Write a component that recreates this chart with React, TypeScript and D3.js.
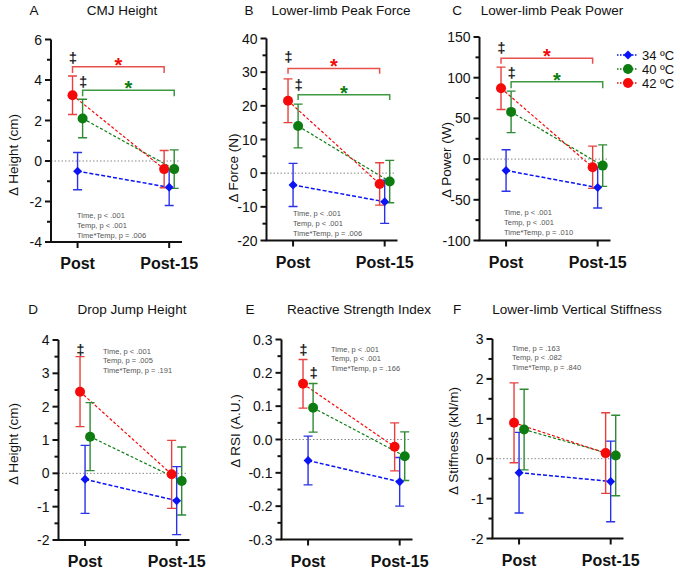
import React from "react";
import * as d3 from "d3";

// time points and groups
const timePoints = ["Post", "Post-15"];
const groups = ["34 ºC", "40 ºC", "42 ºC"];

// means per group [Post, Post-15]
const cmjMeans = [[-0.5, -1.3], [2.1, -0.4], [3.25, -0.4]];
const cmjSd = [[0.92, 0.9], [0.95, 0.95], [0.95, 0.92]];
const forceMeans = [[-3.5, -8.5], [14, -2.5], [21.5, -3.2]];
const forceSd = [[6.4, 6.4], [6.5, 6.3], [6.5, 6.3]];
const powerMeans = [[-14, -35], [58, -8], [87, -10]];
const powerSd = [[25.5, 25], [25.5, 25.5], [26, 26]];
const dropMeans = [[-0.18, -0.82], [1.1, -0.23], [2.45, -0.03]];
const dropSd = [[1.02, 1.02], [1.02, 1.02], [1.05, 1.02]];
const rsiMeans = [[-0.063, -0.127], [0.095, -0.05], [0.167, -0.022]];
const rsiSd = [[0.073, 0.073], [0.073, 0.073], [0.073, 0.072]];
const stiffMeans = [[-0.35, -0.57], [0.73, 0.08], [0.9, 0.14]];
const stiffSd = [[1.01, 1.01], [1.01, 1.01], [1.0, 1.01]];

// y tick values
const cmjTicks = [-4, -2, 0, 2, 4, 6];
const forceTicks = [-20, -10, 0, 10, 20, 30, 40];
const powerTicks = [-100, -50, 0, 50, 100, 150];
const dropTicks = [-2, -1, 0, 1, 2, 3, 4];
const rsiTicks = [-0.3, -0.2, -0.1, 0.0, 0.1, 0.2, 0.3];
const stiffTicks = [-2, -1, 0, 1, 2, 3];

// statistics text
const cmjStats = ["Time, p < .001", "Temp, p < .001", "Time*Temp, p = .006"];
const forceStats = ["Time, p < .001", "Temp, p < .001", "Time*Temp, p = .006"];
const powerStats = ["Time, p < .001", "Temp, p < .001", "Time*Temp, p = .010"];
const dropStats = ["Time, p < .001", "Temp, p = .005", "Time*Temp, p = .191"];
const rsiStats = ["Time, p < .001", "Temp, p < .001", "Time*Temp, p = .166"];
const stiffStats = ["Time, p = .163", "Temp, p < .082", "Time*Temp, p = .840"];

// significance marks: bracket level / drop level / dagger level
const cmjSig = { red: [4.65, 4.35, 5.1], green: [3.5, 3.2, 3.9] };
const forceSig = { red: [31.1, 29.5, 34.4], green: [23.3, 21.7, 26.1] };
const powerSig = { red: [124, 117, 136], green: [95, 87, 106] };
const dropSig = { red: [null, null, 3.7] };
const rsiSig = { red: [null, null, 0.268], green: [null, null, 0.2] };

const markerColors = ["#0a14f5", "#0d7d12", "#f50a0a"];
const barColors = ["#2a33e8", "#2e8b34", "#e8403f"];
const offsets = [0, 0.055, -0.055];
const FONT = "'Liberation Sans', Arial, sans-serif";

interface PanelDef {
  letter: string;
  title: string;
  ylabel: string;
  means: number[][];
  sd: number[][];
  ticks: number[];
  minor: number;
  fmt: (v: number) => string;
  stats: string[];
  sig: any;
  left: number;
  top: number;
  bottom: number;
  titleX: number;
  titleY: number;
  letterX: number;
  labelX: number;
  labelY: number;
  statsX: number;
  statsY: number;
  statsGap: number;
}

const intFmt = (v: number) => String(v);
const rsiFmt = (v: number) => (Math.abs(v) < 1e-9 ? "0.0" : v.toFixed(1));

const panels: PanelDef[] = [
  { letter: "A", title: "CMJ Height", ylabel: "Δ Height (cm)", means: cmjMeans, sd: cmjSd, ticks: cmjTicks, minor: 1, fmt: intFmt, stats: cmjStats, sig: cmjSig,
    left: 51, top: 39.5, bottom: 242, titleX: 122, titleY: 15, letterX: 34, labelX: 18, labelY: 155, statsX: 77, statsY: 218, statsGap: 10 },
  { letter: "B", title: "Lower-limb Peak Force", ylabel: "Δ Force (N)", means: forceMeans, sd: forceSd, ticks: forceTicks, minor: 5, fmt: intFmt, stats: forceStats, sig: forceSig,
    left: 266.5, top: 38.5, bottom: 240.5, titleX: 341, titleY: 15, letterX: 249, labelX: 238, labelY: 168, statsX: 293, statsY: 216, statsGap: 10 },
  { letter: "C", title: "Lower-limb Peak Power", ylabel: "Δ Power (W)", means: powerMeans, sd: powerSd, ticks: powerTicks, minor: 25, fmt: intFmt, stats: powerStats, sig: powerSig,
    left: 479.5, top: 37, bottom: 240.5, titleX: 552, titleY: 15, letterX: 457, labelX: 451, labelY: 160, statsX: 504, statsY: 215, statsGap: 10 },
  { letter: "D", title: "Drop Jump Height", ylabel: "Δ Height (cm)", means: dropMeans, sd: dropSd, ticks: dropTicks, minor: 0.5, fmt: intFmt, stats: dropStats, sig: dropSig,
    left: 58.5, top: 340, bottom: 540, titleX: 132, titleY: 314, letterX: 33, labelX: 18, labelY: 444, statsX: 103, statsY: 354, statsGap: 9.3 },
  { letter: "E", title: "Reactive Strength Index", ylabel: "Δ RSI (A.U.)", means: rsiMeans, sd: rsiSd, ticks: rsiTicks, minor: 0.05, fmt: rsiFmt, stats: rsiStats, sig: rsiSig,
    left: 281.5, top: 339.5, bottom: 539.5, titleX: 359, titleY: 314, letterX: 250, labelX: 240, labelY: 431, statsX: 331, statsY: 352, statsGap: 9.3 },
  { letter: "F", title: "Lower-limb Vertical Stiffness", ylabel: "Δ Stiffness (kN/m)", means: stiffMeans, sd: stiffSd, ticks: stiffTicks, minor: 0.5, fmt: intFmt, stats: stiffStats, sig: {},
    left: 492.5, top: 339, bottom: 538.5, titleX: 577, titleY: 314, letterX: 457, labelX: 458, labelY: 441, statsX: 512, statsY: 351, statsGap: 9.3 },
];

const diamond = d3.symbol().type(d3.symbolSquare).size(40)();

function Marker({ g, x, y }: { g: number; x: number; y: number }) {
  if (g === 0) {
    return <path d={diamond!} transform={`translate(${x},${y}) rotate(45)`} fill={markerColors[0]} />;
  }
  return <circle cx={x} cy={y} r={5} fill={markerColors[g]} />;
}

function Panel({ p }: { p: PanelDef }) {
  const lo = p.ticks[0];
  const hi = p.ticks[p.ticks.length - 1];
  const y = d3.scaleLinear().domain([lo, hi]).range([p.bottom, p.top]);
  const x = d3.scaleLinear().domain([-0.29, 1.14]).range([p.left, p.left + 131]);
  const minorTicks = d3.range(lo, hi + p.minor / 2, p.minor).filter(
    (v) => !p.ticks.some((t) => Math.abs(t - v) < p.minor / 10)
  );
  const order = [1, 0, 2];

  const bracket = (key: "red" | "green", g: number, color: string) => {
    const s = p.sig[key];
    if (!s) return null;
    const x0 = x(0 + offsets[g]);
    const x1 = x(1 + offsets[g]);
    return (
      <g key={key}>
        {s[0] !== null && (
          <>
            <path
              d={`M${x0},${y(s[1])}V${y(s[0])}H${x1}V${y(s[1])}`}
              fill="none"
              stroke={color}
              strokeWidth={1.5}
            />
            <text x={(x0 + x1) / 2} y={y(s[0]) + 5} textAnchor="middle" fontSize={20} fontWeight="bold" fill={markerColors[g]}>
              *
            </text>
          </>
        )}
        <text x={x0 + 0.5} y={y(s[2]) + 5} textAnchor="middle" fontSize={15} fontWeight="bold" fill="#222">
          ‡
        </text>
      </g>
    );
  };

  return (
    <g fontFamily={FONT}>
      <text x={p.letterX} y={p.titleY} textAnchor="middle" fontSize={13.5} fill="#111">{p.letter}</text>
      <text x={p.titleX} y={p.titleY} textAnchor="middle" fontSize={13.5} fill="#111">{p.title}</text>
      <text transform={`translate(${p.labelX},${p.labelY}) rotate(-90)`} textAnchor="middle" fontSize={13.5} fill="#111">
        {p.ylabel}
      </text>

      {/* zero reference */}
      <line x1={p.left} x2={x(1.12)} y1={y(0)} y2={y(0)} stroke="#888" strokeWidth={1} strokeDasharray="1.5,2" />

      {/* y axis */}
      <line x1={p.left} x2={p.left} y1={p.top} y2={p.bottom} stroke="#111" strokeWidth={2} />
      {p.ticks.map((t) => (
        <g key={t}>
          <line x1={p.left - 6} x2={p.left} y1={y(t)} y2={y(t)} stroke="#111" strokeWidth={2} />
          <text x={p.left - 9} y={y(t)} dy="0.36em" textAnchor="end" fontSize={14} fill="#111">
            {p.fmt(t)}
          </text>
        </g>
      ))}
      {minorTicks.map((t) => (
        <line key={"m" + t} x1={p.left - 4} x2={p.left} y1={y(t)} y2={y(t)} stroke="#111" strokeWidth={2} />
      ))}

      {/* x axis */}
      <line x1={p.left - 1} x2={x(1.14)} y1={p.bottom} y2={p.bottom} stroke="#111" strokeWidth={2} />
      {timePoints.map((tp, i) => (
        <g key={tp}>
          <line x1={x(i)} x2={x(i)} y1={p.bottom} y2={p.bottom + 6} stroke="#111" strokeWidth={2} />
          <text x={x(i)} y={p.bottom + 27} textAnchor="middle" fontSize={16} fontWeight="bold" fill="#111">
            {tp}
          </text>
        </g>
      ))}

      {/* stats */}
      {p.stats.map((s, i) => (
        <text key={s + i} x={p.statsX} y={p.statsY + i * p.statsGap} fontSize={7.5} fill="#555">
          {s}
        </text>
      ))}

      {bracket("red", 2, "#e8504c")}
      {bracket("green", 1, "#3d9a40")}

      {/* connecting dashed lines */}
      {order.map((g) => (
        <line
          key={"l" + g}
          x1={x(0 + offsets[g])}
          y1={y(p.means[g][0])}
          x2={x(1 + offsets[g])}
          y2={y(p.means[g][1])}
          stroke={markerColors[g]}
          strokeWidth={g === 0 ? 1.5 : 1.2}
          strokeDasharray={g === 0 ? "4,2" : "3,2"}
        />
      ))}

      {/* error bars */}
      {order.map((g) =>
        [0, 1].map((i) => {
          const cx = x(i + offsets[g]);
          const m = p.means[g][i];
          const e = p.sd[g][i];
          return (
            <path
              key={"e" + g + i}
              d={`M${cx - 4.5},${y(m + e)}H${cx + 4.5}M${cx},${y(m + e)}V${y(m - e)}M${cx - 4.5},${y(m - e)}H${cx + 4.5}`}
              fill="none"
              stroke={barColors[g]}
              strokeWidth={1.4}
            />
          );
        })
      )}

      {/* markers */}
      {order.map((g) =>
        [0, 1].map((i) => <Marker key={"p" + g + i} g={g} x={x(i + offsets[g])} y={y(p.means[g][i])} />)
      )}
    </g>
  );
}

function Legend() {
  const ys = [55, 69, 83];
  return (
    <g fontFamily={FONT}>
      {groups.map((name, g) => (
        <g key={name}>
          <line x1={617} x2={638} y1={ys[g]} y2={ys[g]} stroke={markerColors[g]} strokeWidth={1.3} strokeDasharray="1.5,1.5" />
          <Marker g={g} x={628} y={ys[g]} />
          <text x={642} y={ys[g]} dy="0.36em" fontSize={13} fill="#111">
            {name}
          </text>
        </g>
      ))}
    </g>
  );
}

export default function App() {
  return (
    <svg
      width={680}
      height={570}
      style={{ position: "absolute", left: 0, top: 0, background: "#fff" }}
    >
      {panels.map((p) => (
        <Panel key={p.letter} p={p} />
      ))}
      <Legend />
    </svg>
  );
}
